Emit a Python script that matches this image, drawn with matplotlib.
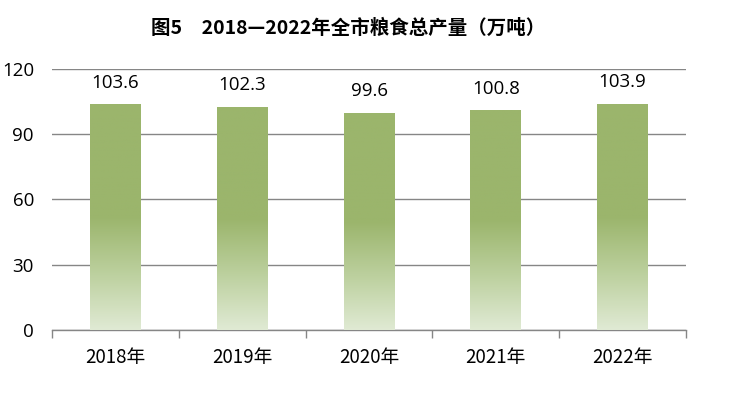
import matplotlib
matplotlib.use("Agg")
import matplotlib.pyplot as plt
import numpy as np
from matplotlib.colors import LinearSegmentedColormap

years = ["2018年", "2019年", "2020年", "2021年", "2022年"]
values = [103.6, 102.3, 99.6, 100.8, 103.9]
yticks = [0, 30, 60, 90, 120]
title = "图5　2018—2022年全市粮食总产量（万吨）"

plt.rcParams['font.family'] = ['Open Sans', 'Noto Sans CJK SC', 'DejaVu Sans']

fig = plt.figure(figsize=(7.3, 3.94), dpi=100)
ax = fig.add_axes([52/730, 1-330/394, (686-52)/730, (330-69)/394])

x = np.arange(len(years))
width = 0.4
cmap = LinearSegmentedColormap.from_list(
    "g", [(0.0, "#e0ead4"), (0.25, "#bcd09e"), (0.5, "#9bb56c"), (1.0, "#9bb56c")])
grad = np.linspace(0, 1, 256).reshape(-1, 1)
bars = ax.bar(x, values, width=width, color="none", zorder=3)
for b, v in zip(bars, values):
    x0 = b.get_x()
    ax.imshow(grad, cmap=cmap, origin="lower", aspect="auto",
              extent=[x0, x0 + width, 0, v], zorder=3)
    ax.text(b.get_x() + width/2, v + 6, f"{v}", ha="center", va="bottom",
            fontsize=13.5, color="#000000", zorder=4)

ax.set_xlim(-0.5, len(years) - 0.5)
ax.set_ylim(0, 120)
ax.set_yticks(yticks)
ax.set_yticklabels([str(t) for t in yticks], fontsize=13.5)
ax.yaxis.grid(True, color="#868686", linewidth=1)
ax.set_axisbelow(True)
ax.tick_params(axis="y", length=0, pad=13)
ax.set_xticks(x)
ax.set_xticklabels(years, fontsize=13.5, family=['Noto Sans CJK SC'])
ax.set_xticks(np.arange(-0.5, len(years)), minor=True)
ax.tick_params(axis="x", which="major", length=0, pad=12)
ax.tick_params(axis="x", which="minor", length=6, color="#868686", width=1)
for s in ["left", "right", "top"]:
    ax.spines[s].set_visible(False)
ax.spines["bottom"].set_color("#868686")
ax.spines["bottom"].set_linewidth(1)

fig.text(348/730, 1-28/394, title, ha="center", va="center", fontsize=14,
         fontweight="bold", family=['Noto Sans CJK SC', 'DejaVu Sans'])

fig.savefig("out.png", dpi=100)
